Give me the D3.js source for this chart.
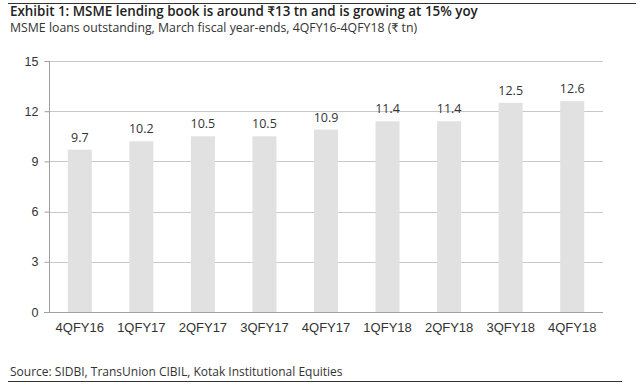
<!DOCTYPE html>
<html>
<head>
<meta charset="utf-8">
<script src="https://cdn.jsdelivr.net/npm/d3@7"></script>
<style>
  body { margin: 0; background: #fff; }
  svg { display: block; font-family: "Open Sans", Lato, sans-serif; }
</style>
</head>
<body>
<main></main>
<script>
"use strict";

// Data
const quarters = ["4QFY16", "1QFY17", "2QFY17", "3QFY17", "4QFY17", "1QFY18", "2QFY18", "3QFY18", "4QFY18"];
const loans = [9.7, 10.2, 10.5, 10.5, 10.9, 11.4, 11.4, 12.5, 12.6];
const yTicks = [0, 3, 6, 9, 12, 15];

const w = 640;
const h = 385;
const margin = { top: 61, bottom: 73, left: 49, right: 37 };

const svg = d3.select("main").append("svg").attr("width", w).attr("height", h);

// header and footer rules
svg.append("line").attr("x1", 8).attr("x2", 636).attr("y1", 3.5).attr("y2", 3.5)
  .attr("stroke", "#333").attr("stroke-width", 1);
svg.append("line").attr("x1", 8).attr("x2", 622).attr("y1", 381.5).attr("y2", 381.5)
  .attr("stroke", "#333").attr("stroke-width", 1);

svg.append("text").attr("x", 10).attr("y", 16).attr("font-size", 13.4).attr("font-weight", 600)
  .attr("fill", "#222").text("Exhibit 1: MSME lending book is around ₹13 tn and is growing at 15% yoy");
svg.append("text").attr("x", 10).attr("y", 32).attr("font-size", 12.3).attr("fill", "#333")
  .text("MSME loans outstanding, March fiscal year-ends, 4QFY16-4QFY18 (₹ tn)");
svg.append("text").attr("x", 10).attr("y", 376).attr("font-size", 12).attr("fill", "#333")
  .text("Source: SIDBI, TransUnion CIBIL, Kotak Institutional Equities");

const x = d3.scaleBand().domain(quarters).range([margin.left, w - margin.right]).paddingInner(0.61).paddingOuter(0.305);
const y = d3.scaleLinear().domain([0, 15]).range([h - margin.bottom, margin.top]);

// gridlines
svg.append("g")
  .selectAll("line")
  .data(yTicks.slice(1))
  .enter()
  .append("line")
  .attr("x1", margin.left)
  .attr("x2", w - margin.right)
  .attr("y1", (d) => Math.round(y(d)) + 0.5)
  .attr("y2", (d) => Math.round(y(d)) + 0.5)
  .attr("stroke", "#c8c8c8");

// bars
svg.append("g")
  .selectAll("rect")
  .data(loans)
  .enter()
  .append("rect")
  .attr("x", (d, i) => x(quarters[i]))
  .attr("width", x.bandwidth())
  .attr("y", (d) => y(d))
  .attr("height", (d) => y(0) - y(d))
  .attr("fill", "#e1e1e1");

// value labels
svg.append("g")
  .selectAll("text")
  .data(loans)
  .enter()
  .append("text")
  .attr("x", (d, i) => x(quarters[i]) + x.bandwidth() / 2)
  .attr("y", (d) => y(d) - 8)
  .attr("text-anchor", "middle")
  .attr("font-size", 12.5)
  .attr("fill", "#333")
  .text((d) => d.toFixed(1));

// y axis
const yAxis = d3.axisLeft(y).tickValues(yTicks).tickSize(5).tickPadding(6);
svg.append("g")
  .attr("transform", `translate(${margin.left + 0.5},0)`)
  .call(yAxis)
  .call((g) => g.select(".domain").attr("stroke", "#a0a0a0").attr("d", `M0,${y(0)}V${y(15)}`))
  .call((g) => g.selectAll(".tick line").attr("stroke", "#a0a0a0"))
  .call((g) => g.selectAll(".tick text").attr("font-size", 12.5).attr("fill", "#333").attr("font-family", "inherit"));

// x axis
const xAxis = d3.axisBottom(x).tickSize(0).tickPadding(10);
svg.append("g")
  .attr("transform", `translate(0,${Math.round(y(0)) + 0.5})`)
  .call(xAxis)
  .call((g) => g.select(".domain").attr("stroke", "#a0a0a0").attr("d", `M${margin.left - 5},0H${w - margin.right}`))
  .call((g) => g.selectAll(".tick text").attr("font-size", 13).attr("fill", "#333").attr("font-family", "inherit"));
</script>
</body>
</html>
